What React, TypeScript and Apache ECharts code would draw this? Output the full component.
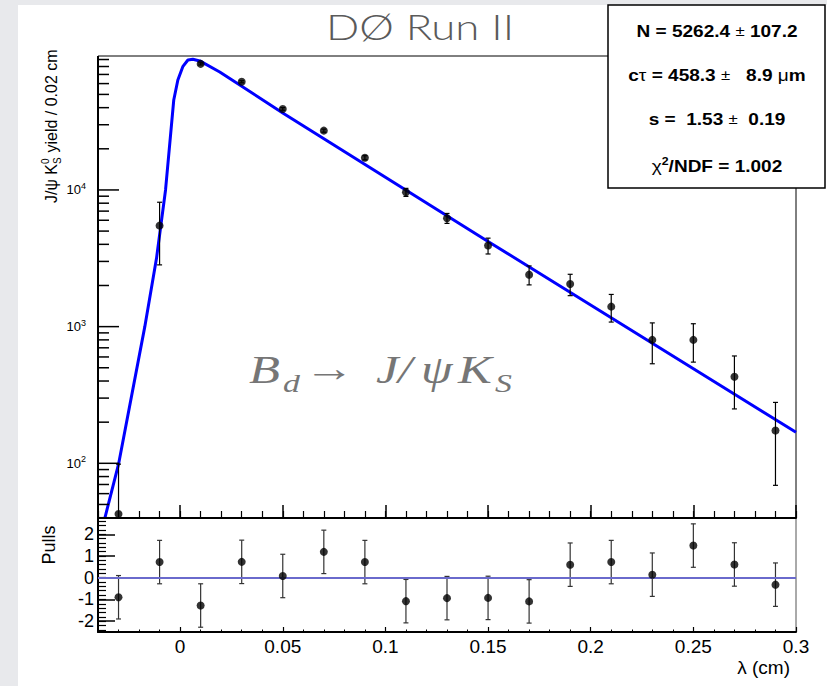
import React, { useEffect, useRef } from 'react';
import * as echarts from 'echarts';

// ---- data ----
const binCenters = [-0.03, -0.01, 0.01, 0.03, 0.05, 0.07, 0.09, 0.11, 0.13, 0.15, 0.17, 0.19, 0.21, 0.23, 0.25, 0.27, 0.29];
const yields = [42.6, 5480, 83600, 61900, 39150, 27150, 17200, 9620, 6210, 3920, 2400, 2050, 1400, 800, 800, 430, 174];
const yieldErrors = [56, 2650, 1500, 1100, 900, 700, 600, 650, 520, 520, 380, 365, 320, 265, 250, 180, 105];

const pulls = [-0.90, 0.72, -1.28, 0.73, 0.08, 1.19, 0.72, -1.08, -0.94, -0.93, -1.09, 0.60, 0.72, 0.14, 1.48, 0.61, -0.32];
const pullErrors = [1, 1, 1, 1, 1, 1, 1, 1, 1, 1, 1, 1, 1, 1, 1, 1, 1];

const fitX = [-0.0366, -0.0299, -0.0172, -0.0115, -0.0071, -0.0031, -0.0011, 0.0013, 0.0038, 0.0062, 0.0096, 0.0193, 0.05, 0.15, 0.3];
const fitY = [40.1, 100, 1000, 3160, 10000, 45500, 63800, 79800, 89300, 90300, 87900, 73000, 36600, 4200, 168.7];

const xTickLabels = [0, 0.05, 0.1, 0.15, 0.2, 0.25, 0.3];
const yDecades = [2, 3, 4];
const yMajorTicks = [100, 1000, 10000];
const pullTickLabels = [-2, -1, 0, 1, 2];

const X_MIN = -0.04;
const X_MAX = 0.3;
const Y_MIN = 39.8;
const Y_MAX = 95500;
const P_MIN = -2.5;
const P_MAX = 2.75;

// layout of the two pads
const PAD_LEFT = 98;
const PAD_WIDTH = 698;
const MAIN_TOP = 56;
const MAIN_HEIGHT = 462;
const PULL_TOP = 518;
const PULL_HEIGHT = 114;

const FONT = '"Liberation Sans", Arial, Helvetica, sans-serif';
const SERIF = '"Liberation Serif", "DejaVu Serif", serif';
const FORMULA_GRAY = '#767676';

const minorX = Array.from({ length: 35 }, (_, i) => +((X_MIN + i * 0.01).toFixed(2)));
const yMinorTicks: number[] = [];
[10, 100, 1000, 10000].forEach((d) => {
  for (let k = 2; k <= 9; k++) {
    const v = k * d;
    if (v > Y_MIN && v < Y_MAX) yMinorTicks.push(v);
  }
});
const minorPull = Array.from({ length: 26 }, (_, i) => +((-2.4 + i * 0.2).toFixed(1)));

// pixel row of a value on the upper pad's log scale (used for the decorative tick marks only)
const logRow = (v: number) =>
  MAIN_TOP + (MAIN_HEIGHT * (Math.log10(Y_MAX) - Math.log10(v))) / (Math.log10(Y_MAX) - Math.log10(Y_MIN));

function errRender(color: string, floor: number | null, width: number) {
  return (params: any, api: any) => {
    const x = api.value(0);
    const y = api.value(1);
    const e = api.value(2);
    let lo = y - e;
    let clamped = false;
    if (floor !== null && lo < floor) {
      lo = floor;
      clamped = true;
    }
    const hi = y + e;
    const p1 = api.coord([x, lo]);
    const p2 = api.coord([x, hi]);
    const cap = 2.5;
    const style = { stroke: color, lineWidth: width };
    const children: any[] = [
      { type: 'line', shape: { x1: p1[0], y1: p1[1], x2: p2[0], y2: p2[1] }, style },
      { type: 'line', shape: { x1: p2[0] - cap, y1: p2[1], x2: p2[0] + cap, y2: p2[1] }, style },
    ];
    if (!clamped) {
      children.push({ type: 'line', shape: { x1: p1[0] - cap, y1: p1[1], x2: p1[0] + cap, y2: p1[1] }, style });
    }
    return { type: 'group', children };
  };
}

function glyph(text: string, x: number, y: number, size: number, italic = true) {
  return {
    type: 'text', x, y, scaleX: 1.3,
    style: { text, fontSize: size, fontStyle: italic ? 'italic' : 'normal', fontFamily: SERIF, fill: FORMULA_GRAY, verticalAlign: 'bottom' },
  };
}

export default function App() {
  const ref = useRef<HTMLDivElement>(null);
  useEffect(() => {
    if (!ref.current) return;
    const chart = echarts.init(ref.current, null, { renderer: 'svg' });

    const statRich = {
      b: { fontSize: 17, fontWeight: 'bold', fontFamily: FONT, fill: '#000', lineHeight: 22 },
      r: { fontSize: 15, fontFamily: FONT, fill: '#000', lineHeight: 22 },
      g: { fontSize: 17, fontFamily: FONT, fill: '#000', lineHeight: 22 },
      s: { fontSize: 11, fontWeight: 'bold', fontFamily: FONT, fill: '#000', verticalAlign: 'top', lineHeight: 11 },
    };

    const tickEls: any[] = [
      {
        type: 'line', z: 1000, silent: true,
        shape: { x1: PAD_LEFT, y1: MAIN_TOP, x2: PAD_LEFT, y2: MAIN_TOP + MAIN_HEIGHT + 1 },
        style: { stroke: '#000', lineWidth: 2 },
      },
      ...yMajorTicks.map((v) => ({
        type: 'line', z: 1000, silent: true,
        shape: { x1: PAD_LEFT, y1: logRow(v), x2: PAD_LEFT + 21, y2: logRow(v) },
        style: { stroke: '#000', lineWidth: 1.5 },
      })),
      ...yMinorTicks.map((v) => ({
        type: 'line', z: 1000, silent: true,
        shape: { x1: PAD_LEFT, y1: logRow(v), x2: PAD_LEFT + 11, y2: logRow(v) },
        style: { stroke: '#000', lineWidth: 1.5 },
      })),
    ];

    const option: any = {
      animation: false,
      backgroundColor: '#ffffff',
      grid: [
        { left: PAD_LEFT, top: MAIN_TOP, width: PAD_WIDTH, height: MAIN_HEIGHT, show: true, borderColor: '#000', borderWidth: 1 },
        { left: PAD_LEFT, top: PULL_TOP, width: PAD_WIDTH, height: PULL_HEIGHT, show: true, borderColor: '#555', borderWidth: 1 },
      ],
      xAxis: [
        {
          gridIndex: 0, type: 'value', min: X_MIN, max: X_MAX, position: 'bottom',
          axisLine: { show: true, onZero: false, lineStyle: { color: '#000', width: 2 } },
          axisTick: { show: true, inside: true, length: 13, customValues: xTickLabels, lineStyle: { color: '#000', width: 1.5 } },
          axisLabel: { show: false },
          splitLine: { show: false },
        },
        {
          gridIndex: 0, type: 'value', min: X_MIN, max: X_MAX, position: 'bottom',
          axisLine: { show: false, onZero: false },
          axisTick: { show: true, inside: true, length: 7, customValues: minorX, lineStyle: { color: '#000', width: 1.2 } },
          axisLabel: { show: false },
          splitLine: { show: false },
        },
        {
          gridIndex: 1, type: 'value', min: X_MIN, max: X_MAX, position: 'bottom',
          axisLine: { show: true, onZero: false, lineStyle: { color: '#000', width: 2 } },
          axisTick: { show: true, inside: true, length: 5, customValues: xTickLabels, lineStyle: { color: '#000', width: 1.2 } },
          axisLabel: {
            show: true, customValues: xTickLabels, margin: 5,
            fontSize: 19, fontFamily: FONT, color: '#000',
            formatter: (v: number) => String(+v.toFixed(2)),
          },
          splitLine: { show: false },
        },
        {
          gridIndex: 1, type: 'value', min: X_MIN, max: X_MAX, position: 'bottom',
          axisLine: { show: false, onZero: false },
          axisTick: { show: true, inside: true, length: 2.5, customValues: minorX, lineStyle: { color: '#000', width: 1 } },
          axisLabel: { show: false },
          splitLine: { show: false },
        },
      ],
      yAxis: [
        {
          gridIndex: 0, type: 'value', min: Math.log10(Y_MIN), max: Math.log10(Y_MAX), position: 'left',
          axisLine: { show: false, onZero: false },
          axisTick: { show: false },
          axisLabel: {
            show: true, customValues: yDecades, margin: 12,
            formatter: (v: number) => `{b|10}{s|${Math.round(v)}}`,
            rich: {
              b: { fontSize: 13, fontFamily: FONT, color: '#000', lineHeight: 17 },
              s: { fontSize: 9, fontFamily: FONT, color: '#000', verticalAlign: 'top', lineHeight: 9 },
            },
          },
          splitLine: { show: false },
        },
        {
          gridIndex: 0, type: 'log', logBase: 10, min: Y_MIN, max: Y_MAX, position: 'right',
          axisLine: { show: false, onZero: false }, axisTick: { show: false }, axisLabel: { show: false }, splitLine: { show: false },
        },
        {
          gridIndex: 1, type: 'value', min: P_MIN, max: P_MAX, position: 'left',
          axisLine: { show: true, onZero: false, lineStyle: { color: '#000', width: 2 } },
          axisTick: { show: true, inside: true, length: 17, customValues: pullTickLabels, lineStyle: { color: '#000', width: 1.5 } },
          axisLabel: { show: true, customValues: pullTickLabels, margin: 4, fontSize: 18, fontFamily: FONT, color: '#000' },
          splitLine: { show: false },
        },
        {
          gridIndex: 1, type: 'value', min: P_MIN, max: P_MAX, position: 'left',
          axisLine: { show: false, onZero: false },
          axisTick: { show: true, inside: true, length: 8, customValues: minorPull, lineStyle: { color: '#000', width: 1.2 } },
          axisLabel: { show: false },
          splitLine: { show: false },
        },
      ],
      series: [
        {
          type: 'line', xAxisIndex: 0, yAxisIndex: 1,
          data: fitX.map((x, i) => [x, fitY[i]]),
          symbol: 'none', showSymbol: false, clip: true,
          lineStyle: { color: '#0000ff', width: 3 }, z: 3,
        },
        {
          type: 'custom', xAxisIndex: 0, yAxisIndex: 1,
          data: binCenters.map((x, i) => [x, yields[i], yieldErrors[i]]),
          renderItem: errRender('#000', Y_MIN, 1.2), clip: false, z: 4,
        },
        {
          type: 'scatter', xAxisIndex: 0, yAxisIndex: 1,
          data: binCenters.map((x, i) => [x, yields[i]]),
          symbol: 'circle', symbolSize: 8, itemStyle: { color: '#000' }, z: 5,
        },
        {
          type: 'custom', xAxisIndex: 2, yAxisIndex: 2,
          data: binCenters.map((x, i) => [x, pulls[i], pullErrors[i]]),
          renderItem: errRender('#333', null, 1.2), clip: true, z: 4,
        },
        {
          type: 'scatter', xAxisIndex: 2, yAxisIndex: 2,
          data: binCenters.map((x, i) => [x, pulls[i]]),
          symbol: 'circle', symbolSize: 8, itemStyle: { color: '#000' }, z: 5,
          markLine: {
            silent: true, symbol: 'none', label: { show: false },
            lineStyle: { color: '#6a6acc', width: 2, type: 'solid' },
            data: [{ yAxis: 0 }],
          },
        },
      ],
      graphic: [
        // grey page margins (left and top strips)
        { type: 'rect', silent: true, z: 0, shape: { x: 0, y: 0, width: 18, height: 686 }, style: { fill: '#e8e9ec' } },
        { type: 'rect', silent: true, z: 0, shape: { x: 0, y: 0, width: 827, height: 5 }, style: { fill: '#e8e9ec' } },
        {
          type: 'text', x: 420, y: 26, z: 50, scaleX: 1.25,
          style: { text: 'DØ Run II', fontSize: 35, fontFamily: 'Lato, "Open Sans", sans-serif', fontWeight: 300, fill: '#5a5a5a', align: 'center', verticalAlign: 'middle' },
        },
        // stats box
        { type: 'rect', z: 60, shape: { x: 608, y: 5, width: 217, height: 183 }, style: { fill: '#fff', stroke: '#000', lineWidth: 1.5 } },
        {
          type: 'text', x: 717, y: 31, z: 61, scaleX: 1.12,
          style: { text: '{b|N = 5262.4 }{r|±}{b| 107.2}', align: 'center', verticalAlign: 'middle', rich: statRich },
        },
        {
          type: 'text', x: 717, y: 75, z: 61, scaleX: 1.12,
          style: { text: '{b|c}{g|τ}{b| = 458.3 }{r|±}{b|   8.9 }{g|μ}{b|m}', align: 'center', verticalAlign: 'middle', rich: statRich },
        },
        {
          type: 'text', x: 717, y: 119, z: 61, scaleX: 1.12,
          style: { text: '{b|s =  1.53 }{r|±}{b|  0.19}', align: 'center', verticalAlign: 'middle', rich: statRich },
        },
        {
          type: 'text', x: 717, y: 166, z: 61, scaleX: 1.12,
          style: { text: '{g|χ}{s|2}{b|/NDF = 1.002}', align: 'center', verticalAlign: 'middle', rich: statRich },
        },
        // y-axis title
        {
          type: 'group', x: 51, y: 203, rotation: Math.PI / 2, z: 50,
          children: [
            { type: 'text', x: 0, y: 0, style: { text: 'J/ψ K', fontSize: 16, fontFamily: FONT, fill: '#000', verticalAlign: 'middle' } },
            { type: 'text', x: 39, y: -6, style: { text: '0', fontSize: 10, fontFamily: FONT, fill: '#000', verticalAlign: 'middle' } },
            { type: 'text', x: 39, y: 6, style: { text: 'S', fontSize: 10, fontFamily: FONT, fill: '#000', verticalAlign: 'middle' } },
            { type: 'text', x: 46, y: 0, style: { text: ' yield / 0.02 cm', fontSize: 16, fontFamily: FONT, fill: '#000', verticalAlign: 'middle' } },
          ],
        },
        {
          type: 'text', x: 49, y: 545, rotation: Math.PI / 2, z: 50,
          style: { text: 'Pulls', fontSize: 18, fontFamily: FONT, fill: '#000', align: 'center', verticalAlign: 'middle' },
        },
        {
          type: 'text', x: 790, y: 667, z: 50,
          style: { text: 'λ (cm)', fontSize: 19, fontFamily: FONT, fill: '#000', align: 'right', verticalAlign: 'middle' },
        },
        // decay formula
        {
          type: 'group', z: 50,
          children: [
            glyph('B', 249, 390, 39),
            glyph('d', 283, 396, 26),
            glyph('→', 304, 388, 39, false),
            glyph('J', 376, 390, 39),
            glyph('/', 398, 390, 39),
            glyph('ψ', 421, 390, 39),
            glyph('K', 458, 390, 39),
            glyph('S', 495, 396, 26),
          ],
        },
        ...tickEls,
      ],
    };

    chart.setOption(option);
    return () => chart.dispose();
  }, []);

  return <div ref={ref} style={{ position: 'fixed', left: 0, top: 0, width: 827, height: 686 }} />;
}
